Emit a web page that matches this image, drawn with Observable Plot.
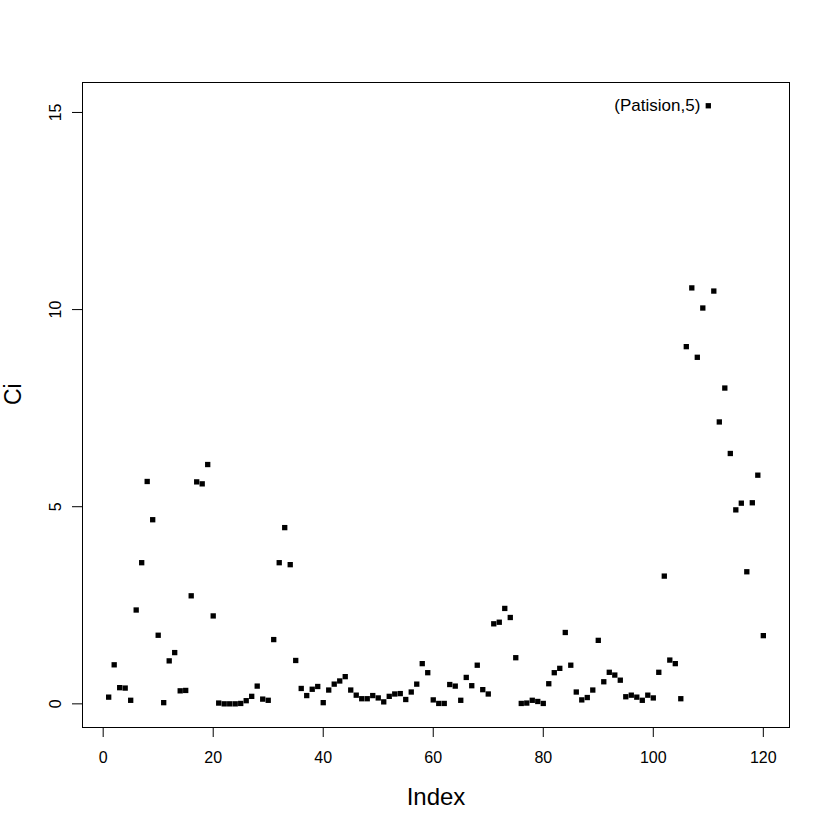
<!DOCTYPE html>
<html>
<head>
<meta charset="utf-8">
<script src="https://cdn.jsdelivr.net/npm/d3@7"></script>
<script src="https://cdn.jsdelivr.net/npm/@observablehq/plot@0.6"></script>
<style>
  html, body { margin: 0; padding: 0; background: #fff; }
  svg { font-family: "Liberation Sans", Arial, sans-serif; }
</style>
</head>
<body>
<div id="chart"></div>
<script>
const ciValues = [
  0.17, 0.99, 0.41, 0.40, 0.09, 2.38, 3.58, 5.64, 4.67, 1.74,
  0.03, 1.09, 1.30, 0.33, 0.34, 2.74, 5.63, 5.58, 6.07, 2.23,
  0.02, 0.00, 0.00, 0.00, 0.01, 0.08, 0.19, 0.45, 0.12, 0.09,
  1.63, 3.58, 4.47, 3.53, 1.10, 0.39, 0.21, 0.37, 0.44, 0.03,
  0.35, 0.50, 0.58, 0.69, 0.35, 0.22, 0.13, 0.13, 0.21, 0.15,
  0.05, 0.19, 0.25, 0.26, 0.11, 0.30, 0.50, 1.02, 0.79, 0.10,
  0.01, 0.01, 0.49, 0.45, 0.09, 0.67, 0.46, 0.98, 0.36, 0.25,
  2.03, 2.07, 2.42, 2.19, 1.17, 0.01, 0.02, 0.09, 0.06, 0.01,
  0.51, 0.79, 0.90, 1.81, 0.98, 0.30, 0.10, 0.16, 0.35, 1.61,
  0.56, 0.80, 0.73, 0.60, 0.18, 0.22, 0.17, 0.09, 0.22, 0.15,
  0.80, 3.24, 1.11, 1.02, 0.13, 9.06, 10.55, 8.79, 10.04, 15.17,
  10.47, 7.15, 8.01, 6.35, 4.92, 5.09, 3.35, 5.10, 5.80, 1.73
];
const xTicks = [0, 20, 40, 60, 80, 100, 120];
const yTicks = [0, 5, 10, 15];
const labels = [{index: 110, ci: 15.17, text: "(Patision,5)"}];

const data = ciValues.map((v, i) => ({index: i + 1, ci: v}));

const chart = Plot.plot({
  width: 830,
  height: 830,
  marginLeft: 82,
  marginRight: 41,
  marginTop: 82,
  marginBottom: 103,
  style: {fontFamily: "Liberation Sans, Arial, sans-serif", background: "#fff"},
  x: {domain: [-3.76, 124.76], axis: null},
  y: {domain: [-0.6, 15.76], axis: null},
  marks: [
    Plot.frame({stroke: "black", strokeWidth: 1}),
    Plot.axisX({ticks: xTicks, tickSize: 10, tickPadding: 14, fontSize: 16, label: null, tickFormat: d => d, stroke: "black", color: "black"}),
    Plot.axisY({ticks: yTicks, tickSize: 10, tickFormat: () => "", label: null, stroke: "black"}),
    Plot.text(yTicks, {y: d => d, frameAnchor: "left", dx: -22, rotate: -90, lineAnchor: "bottom", text: d => String(d), fontSize: 16, fill: "black", textAnchor: "middle"}),
    Plot.text(["Index"], {frameAnchor: "bottom", dy: 77, lineAnchor: "bottom", text: d => d, fontSize: 24, fill: "black"}),
    Plot.text(["Ci"], {frameAnchor: "left", dx: -62, rotate: -90, lineAnchor: "bottom", text: d => d, fontSize: 23, fill: "black"}),
    Plot.dot(data, {x: "index", y: "ci", symbol: "square", r: 3.0, fill: "black", stroke: null}),
    Plot.text(labels, {x: "index", y: "ci", text: "text", textAnchor: "end", dx: -8, fontSize: 17, fill: "black"})
  ]
});
document.getElementById("chart").appendChild(chart);
</script>
</body>
</html>
